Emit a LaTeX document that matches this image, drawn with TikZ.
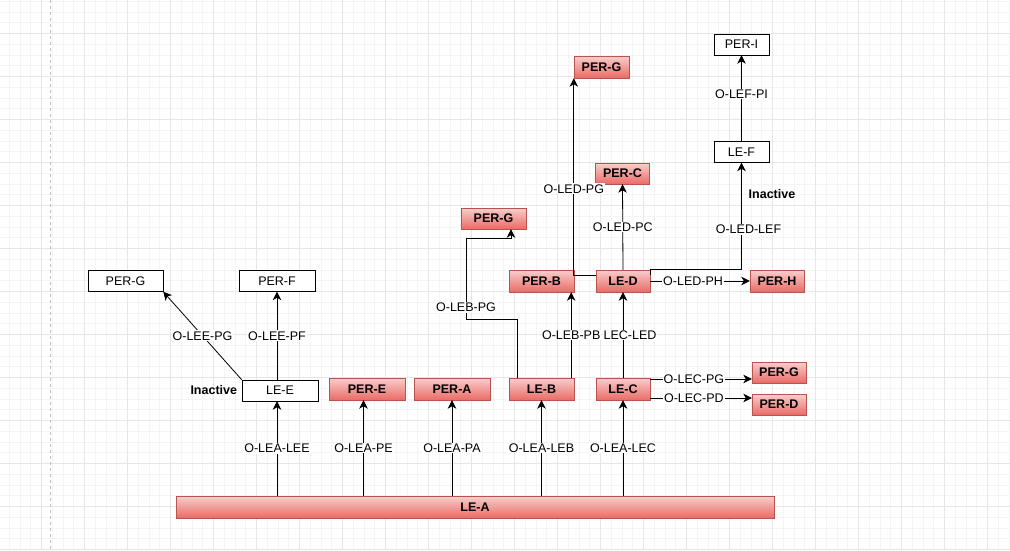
\documentclass[tikz,border=0pt]{standalone}
\usepackage{fontspec}
\setmainfont{Liberation Sans}
\usetikzlibrary{arrows.meta}

\definecolor{redfill}{HTML}{F8CECC}
\definecolor{redgrad}{HTML}{EA6B66}
\definecolor{redline}{HTML}{B85450}
\definecolor{gridminor}{HTML}{F4F4F4}
\definecolor{gridmajor}{HTML}{E6E6E6}

\begin{document}
\begin{tikzpicture}[x=1pt,y=1pt,yscale=-1,xscale=1,
  redbox/.style={draw=redline, top color=redfill, bottom color=redgrad, minimum height=22pt, inner sep=0pt, font=\fontsize{12.5}{14}\selectfont\bfseries},
  whitebox/.style={draw=black, fill=white, minimum height=21pt, inner sep=0pt, font=\fontsize{12.5}{14}\selectfont},
  lbl/.style={fill=white, inner sep=1pt, font=\fontsize{12.5}{14}\selectfont},
  tag/.style={inner sep=0.75pt, font=\fontsize{12.5}{14}\selectfont\bfseries},
  arr/.style={-{Stealth[length=8.5pt,width=8.5pt,inset=2.5pt]}, line width=0.8pt},
]
\useasboundingbox (0,0) rectangle (1010,550);
\fill[white] (0,0) rectangle (1010,550);

%Grid
\foreach \k in {0,...,94} \draw[gridminor, line width=0.6pt] ({-1.7+10.75*\k},0) -- ++(0,550);
\foreach \k in {1,...,52} \draw[gridminor, line width=0.6pt] (0,{-9.7+10.75*\k}) -- ++(1010,0);
\foreach \k in {0,...,23} \draw[gridmajor, line width=0.8pt] ({-1.7+43*\k},0) -- ++(0,550);
\foreach \k in {1,...,13} \draw[gridmajor, line width=0.8pt] (0,{-9.7+43*\k}) -- ++(1010,0);
\draw[black!25, line width=0.8pt, dash pattern=on 3pt off 3pt] (50,0) -- (50,550);

%Shape: Rectangle
\node[redbox, minimum width=598pt] (LEA) at (475,507) {LE-A};
\node[whitebox, minimum width=76pt] (LEE) at (280,390.5) {LE-E};
\node[redbox, minimum width=76pt] (PERE) at (367,389) {PER-E};
\node[redbox, minimum width=76pt] (PERA) at (452,389) {PER-A};
\node[redbox, minimum width=65pt] (LEB) at (541.5,389) {LE-B};
\node[redbox, minimum width=54pt] (LEC) at (623,389) {LE-C};
\node[redbox, minimum width=54pt, minimum height=21pt] (PERGc) at (779,372.5) {PER-G};
\node[redbox, minimum width=54pt, minimum height=21pt] (PERD) at (779,404.5) {PER-D};
\node[redbox, minimum width=65pt] (PERB) at (541.5,281) {PER-B};
\node[redbox, minimum width=54pt] (LED) at (623,281) {LE-D};
\node[redbox, minimum width=54pt] (PERH) at (777,281) {PER-H};
\node[redbox, minimum width=65pt, minimum height=21pt] (PERGb) at (493.5,218.5) {PER-G};
\node[redbox, minimum width=54pt, minimum height=21pt] (PERC) at (622.5,173.5) {PER-C};
\node[redbox, minimum width=55pt] (PERGa) at (601.5,67) {PER-G};
\node[whitebox, minimum width=55pt] (PERI) at (741.5,44.5) {PER-I};
\node[whitebox, minimum width=55pt] (LEF) at (741.5,152) {LE-F};
\node[whitebox, minimum width=75pt] (PERGw) at (125.5,281) {PER-G};
\node[whitebox, minimum width=76pt] (PERF) at (277,281) {PER-F};

% Text Node
\node[tag, anchor=east] (inactE) at (238,390) {Inactive};
\node[tag] (inactF) at (772,194) {Inactive};

%Straight Lines
\draw[arr] (LEA.north -| PERF) -- node[lbl] {O-LEA-LEE} (LEE.south -| PERF);
\draw[arr] ([xshift=-3.5pt]PERE.south |- LEA.north) -- node[lbl] {O-LEA-PE} ([xshift=-3.5pt]PERE.south);
\draw[arr] (PERA.south |- LEA.north) -- node[lbl] {O-LEA-PA} (PERA.south);
\draw[arr] (LEB.south |- LEA.north) -- node[lbl] {O-LEA-LEB} (LEB.south);
\draw[arr] (LEC.south |- LEA.north) -- node[lbl] {O-LEA-LEC} (LEC.south);
\draw[arr] (LEE.north -| PERF) -- node[lbl] {O-LEE-PF} (PERF.south);
\draw[arr] (LEE.north west) -- node[lbl] {O-LEE-PG} (PERGw.south east);
\draw[arr] ([xshift=-3pt]LEB.north east) -- node[lbl] {O-LEB-PB} ([xshift=-3pt]PERB.south east);
\draw[arr] (LEC.north) -- node[lbl, xshift=7pt] {LEC-LED} (LED.south);
\draw[arr] (LED.north) -- node[lbl] {O-LED-PC} (PERC.south);
\draw[arr] (LED.east) -- node[lbl, pos=0.43] {O-LED-PH} (PERH.west);
\draw[arr] (LEF.north) -- node[lbl, pos=0.55] {O-LEF-PI} (PERI.south);
\draw[arr] (LEC.east) ++(0,-10) coordinate (cg) -- node[lbl, pos=0.43] {O-LEC-PG} (cg -| PERGc.west);
\draw[arr] (LEC.east) ++(0,9) coordinate (cd) -- node[lbl, pos=0.43] {O-LEC-PD} (cd -| PERD.west);

%Elbow Lines
\draw[arr] ([xshift=9pt]LEB.north west) |- (466,319) |- node[lbl, pos=0.07] {O-LEB-PG} (511,238) -- ([xshift=17.5pt]PERGb.south);
\draw[arr] (LED.north west) ++(0,6) -| node[lbl, pos=0.72] {O-LED-PG} (PERGa.south west);
\draw[arr] (LED.north east) ++(0,5) -- (LED.north east) -| node[lbl, pos=0.69, xshift=7pt] {O-LED-LEF} (LEF.south);

\end{tikzpicture}
\end{document}
